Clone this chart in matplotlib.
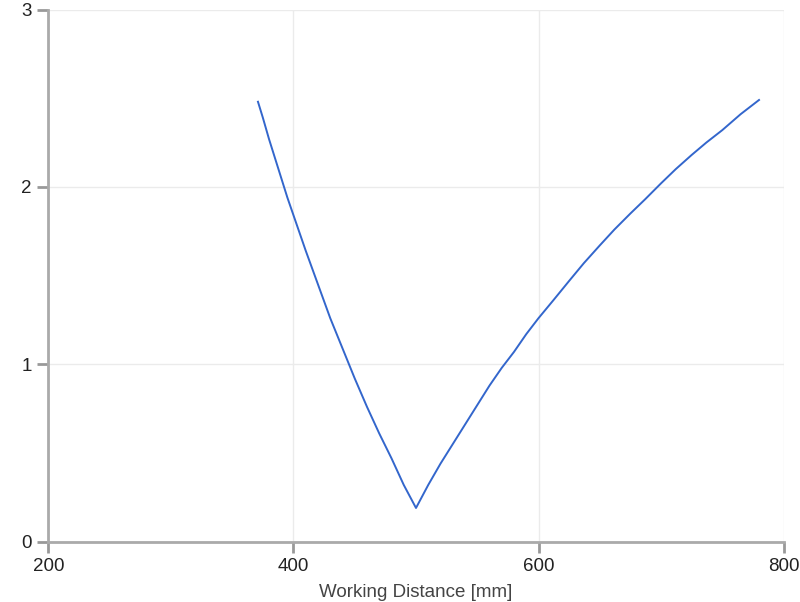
import matplotlib
matplotlib.use("Agg")
from matplotlib import pyplot as plt

# values
working_distance = [371, 375, 380, 385, 390, 395, 400, 410, 420, 430, 440, 450,
                    460, 470, 480, 490, 500,
                    510, 520, 530, 540, 550, 560, 570, 580, 590, 600, 612, 625,
                    637, 650, 662, 675, 687, 700, 712, 725, 737, 750, 765, 780]
blur = [2.48, 2.39, 2.27, 2.16, 2.05, 1.94, 1.84, 1.64, 1.45, 1.26, 1.09, 0.92,
        0.76, 0.61, 0.47, 0.32, 0.19,
        0.32, 0.44, 0.55, 0.66, 0.77, 0.88, 0.98, 1.07, 1.17, 1.26, 1.36, 1.47,
        1.57, 1.67, 1.76, 1.85, 1.93, 2.02, 2.10, 2.18, 2.25, 2.32, 2.41, 2.49]

x_ticks = [200, 400, 600, 800]
y_ticks = [0, 1, 2, 3]

plt.rcParams['font.family'] = ['Liberation Sans', 'DejaVu Sans']

fig = plt.figure(figsize=(8, 6.02), dpi=100)
ax = fig.add_axes([0.0606, 0.1002, 0.9188, 0.8840])

ax.plot(working_distance, blur, color="#3366cc", linewidth=1.4)

ax.set_xlim(200, 800)
ax.set_ylim(0, 3)
ax.set_xticks(x_ticks)
ax.set_yticks(y_ticks)

ax.grid(True, color="#ebebeb", linewidth=1)
ax.set_axisbelow(True)

for side in ["top", "right"]:
    ax.spines[side].set_visible(False)
for side in ["left", "bottom"]:
    ax.spines[side].set_color("#aaaaaa")
    ax.spines[side].set_linewidth(2)

ax.tick_params(axis="both", length=8, width=2, color="#999999",
               labelsize=13.5, labelcolor="#222222", pad=4)

ax.set_xlabel("Working Distance [mm]", fontsize=13.5, color="#444444", labelpad=6)

fig.savefig("out.png", dpi=100)
